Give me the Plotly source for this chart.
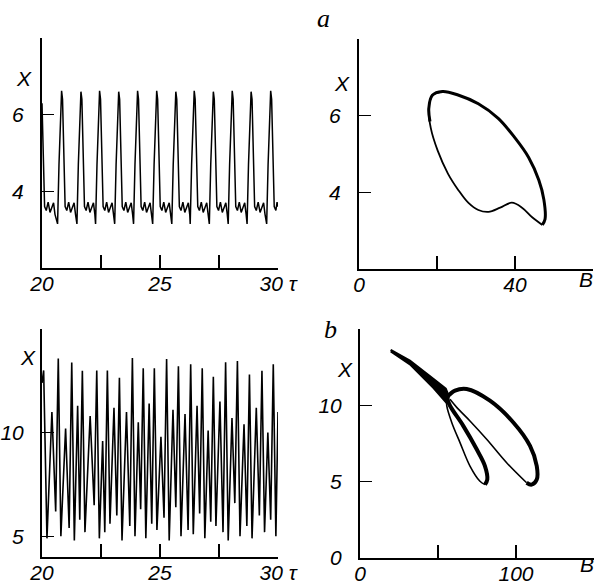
import plotly.graph_objects as go

# ---------------- panel a, time series X(tau) ----------------
a_tau = [20.00, 20.05, 20.11, 20.18, 20.26, 20.34, 20.42, 20.49, 20.55,
         20.66, 20.72, 20.78, 20.83, 20.87, 20.92, 20.98, 21.05, 21.13, 21.21, 21.29, 21.36, 21.42,
         21.48, 21.54, 21.60, 21.65, 21.69, 21.74, 21.80, 21.87, 21.95, 22.03, 22.11, 22.18, 22.24,
         22.27, 22.33, 22.39, 22.44, 22.48, 22.53, 22.59, 22.66, 22.74, 22.82, 22.90, 22.97, 23.03,
         23.08, 23.14, 23.20, 23.25, 23.29, 23.34, 23.40, 23.47, 23.55, 23.63, 23.71, 23.78, 23.84,
         23.88, 23.94, 24.00, 24.05, 24.09, 24.14, 24.20, 24.27, 24.35, 24.43, 24.51, 24.58, 24.64,
         24.69, 24.75, 24.81, 24.86, 24.90, 24.95, 25.01, 25.08, 25.16, 25.24, 25.32, 25.39, 25.45,
         25.50, 25.56, 25.62, 25.67, 25.71, 25.76, 25.82, 25.89, 25.97, 26.05, 26.13, 26.20, 26.26,
         26.28, 26.34, 26.40, 26.45, 26.49, 26.54, 26.60, 26.67, 26.75, 26.83, 26.91, 26.98, 27.04,
         27.09, 27.15, 27.21, 27.26, 27.30, 27.35, 27.41, 27.48, 27.56, 27.64, 27.72, 27.79, 27.85,
         27.89, 27.95, 28.01, 28.06, 28.10, 28.15, 28.21, 28.28, 28.36, 28.44, 28.52, 28.59, 28.65,
         28.69, 28.75, 28.81, 28.86, 28.90, 28.95, 29.01, 29.08, 29.16, 29.24, 29.32, 29.39, 29.45,
         29.52, 29.58, 29.64, 29.69, 29.73, 29.78, 29.84, 29.91, 29.96, 30.00]
a_X = [6.30, 5.20, 3.60, 3.50, 3.72, 3.45, 3.62, 3.70, 3.40,
       3.15, 4.70, 6.00, 6.62, 6.40, 5.10, 3.60, 3.50, 3.72, 3.45, 3.62, 3.70, 3.40,
       3.15, 4.70, 6.00, 6.60, 6.40, 5.10, 3.60, 3.50, 3.72, 3.45, 3.62, 3.70, 3.40,
       3.15, 4.70, 6.00, 6.62, 6.40, 5.10, 3.60, 3.50, 3.72, 3.45, 3.62, 3.70, 3.40,
       3.15, 4.70, 6.00, 6.60, 6.40, 5.10, 3.60, 3.50, 3.72, 3.45, 3.62, 3.70, 3.40,
       3.15, 4.70, 6.00, 6.62, 6.40, 5.10, 3.60, 3.50, 3.72, 3.45, 3.62, 3.70, 3.40,
       3.15, 4.70, 6.00, 6.62, 6.40, 5.10, 3.60, 3.50, 3.72, 3.45, 3.62, 3.70, 3.40,
       3.15, 4.70, 6.00, 6.60, 6.40, 5.10, 3.60, 3.50, 3.72, 3.45, 3.62, 3.70, 3.40,
       3.15, 4.70, 6.00, 6.62, 6.40, 5.10, 3.60, 3.50, 3.72, 3.45, 3.62, 3.70, 3.40,
       3.15, 4.70, 6.00, 6.60, 6.40, 5.10, 3.60, 3.50, 3.72, 3.45, 3.62, 3.70, 3.40,
       3.15, 4.70, 6.00, 6.62, 6.40, 5.10, 3.60, 3.50, 3.72, 3.45, 3.62, 3.70, 3.40,
       3.15, 4.70, 6.00, 6.60, 6.40, 5.10, 3.60, 3.50, 3.72, 3.45, 3.62, 3.70, 3.40,
       3.15, 4.70, 6.00, 6.62, 6.40, 5.10, 3.60, 3.50, 3.72, 3.60]

# ---------------- panel a, phase portrait X(B) ----------------
a_loop_thin_B = [21.4, 18.8, 17.9, 18.4, 20.2, 22.8, 25.4, 28.0, 30.6, 33.2, 36.2, 39.2, 41.8, 44.4, 47.0]
a_loop_thin_X = [6.63, 6.53, 6.19, 5.68, 5.08, 4.49, 4.07, 3.73, 3.54, 3.49, 3.60, 3.73, 3.60, 3.35, 3.15]
a_loop_thick_B = [47.0, 47.7, 47.4, 46.1, 43.5, 40.0, 35.7, 30.6, 25.4, 21.4, 18.8, 17.9, 18.2]
a_loop_thick_X = [3.15, 3.30, 3.81, 4.32, 4.91, 5.42, 5.93, 6.31, 6.54, 6.63, 6.53, 6.19, 5.85]

# ---------------- panel b, time series X(tau) ----------------
b_tau = [20.00, 20.07, 20.21, 20.42, 20.58, 20.69, 20.80, 21.00, 21.15, 21.26,
         21.37, 21.51, 21.60, 21.71, 21.82, 22.04, 22.21, 22.32, 22.43, 22.57,
         22.66, 22.77, 22.88, 23.05, 23.17, 23.28, 23.39, 23.58, 23.72, 23.83,
         23.94, 24.08, 24.18, 24.29, 24.40, 24.54, 24.65, 24.76, 24.87, 25.04,
         25.17, 25.28, 25.39, 25.55, 25.67, 25.78, 25.89, 26.06, 26.19, 26.30,
         26.41, 26.57, 26.68, 26.79, 26.90, 27.04, 27.15, 27.26, 27.37, 27.54,
         27.67, 27.78, 27.89, 28.05, 28.17, 28.28, 28.39, 28.56, 28.68, 28.79,
         28.90, 29.08, 29.21, 29.32, 29.43, 29.57, 29.69, 29.80, 29.91, 30.00]
b_X = [12.4, 13.0, 4.9, 11.0, 6.2, 13.58, 5.0, 10.2, 5.4, 13.38,
       4.8, 11.3, 5.8, 12.98, 5.2, 10.8, 6.5, 13.0, 4.9, 9.6,
       5.2, 13.0, 5.6, 11.2, 6.0, 12.65, 4.8, 11.0, 5.5, 13.6,
       5.0, 10.5, 6.3, 13.1, 4.9, 11.4, 5.6, 13.1, 5.3, 9.8,
       5.9, 13.55, 4.8, 11.1, 6.4, 13.2, 5.0, 10.9, 5.3, 13.3,
       5.1, 11.3, 6.1, 13.1, 4.9, 10.1, 5.7, 12.7, 5.5, 11.5,
       5.2, 13.4, 4.8, 10.7, 6.6, 13.45, 5.0, 10.4, 5.5, 12.8,
       4.9, 11.2, 6.0, 12.98, 5.2, 10.0, 5.8, 13.3, 5.0, 11.0]

# ---------------- panel b, phase portrait X(B) ----------------
b_tail_B = [19.7, 32.0, 47.0, 55.0, 57.0, 56.0, 47.0, 32.0, 19.7]
b_tail_X = [13.65, 12.95, 11.75, 11.1, 10.6, 10.1, 11.15, 12.7, 13.55]
b_loop1_thick_B = [55.6, 57.7, 66.2, 74.8, 80.1, 81.6, 80.1]
b_loop1_thick_X = [10.53, 9.98, 8.66, 7.12, 6.02, 5.13, 4.80]
b_loop1_thin_B = [80.1, 76.9, 70.5, 64.1, 58.8, 55.6, 55.6]
b_loop1_thin_X = [4.80, 5.02, 6.02, 7.56, 8.88, 9.98, 10.53]
b_loop2_thick_B = [55.6, 60.9, 68.4, 83.3, 98.3, 109.0, 113.3, 113.3, 110.0, 106.8]
b_loop2_thick_X = [10.53, 10.97, 11.08, 10.31, 8.88, 7.34, 6.02, 5.13, 4.80, 4.92]
b_loop2_thin_B = [106.8, 94.0, 81.2, 70.5, 62.0, 57.7]
b_loop2_thin_X = [4.92, 6.24, 7.78, 8.98, 9.87, 10.40]

# ---------------- ticks ----------------
ts_tickvals = [20, 22.5, 25, 27.5, 30]
ts_ticktext = ["20", "", "25", "", "30 τ"]
a_ts_yvals, a_ts_ytext = [4, 6, 8], ["4", "6", ""]
a_ph_xvals, a_ph_xtext = [0, 20, 40, 60], ["0", "", "40", ""]
a_ph_yvals, a_ph_ytext = [4, 6, 8], ["4", "6", ""]
b_ts_yvals, b_ts_ytext = [5, 10, 15], ["5", "10", ""]
b_ph_xvals, b_ph_xtext = [0, 50, 100, 150], ["0", "", "100", ""]
b_ph_yvals, b_ph_ytext = [0, 5, 10, 15], ["0", "5", "10", ""]

W, H = 596, 588
def px(x): return x / W
def py(y): return 1 - y / H

K = "black"
fig = go.Figure()
fig.add_trace(go.Scatter(x=a_tau, y=a_X, mode="lines", line=dict(color=K, width=1.5),
                         xaxis="x", yaxis="y", showlegend=False, hoverinfo="skip"))
fig.add_trace(go.Scatter(x=a_loop_thin_B, y=a_loop_thin_X, mode="lines",
                         line=dict(color=K, width=1.8, shape="spline"),
                         xaxis="x2", yaxis="y2", showlegend=False, hoverinfo="skip"))
fig.add_trace(go.Scatter(x=a_loop_thick_B, y=a_loop_thick_X, mode="lines",
                         line=dict(color=K, width=3.0, shape="spline"),
                         xaxis="x2", yaxis="y2", showlegend=False, hoverinfo="skip"))
fig.add_trace(go.Scatter(x=b_tau, y=b_X, mode="lines", line=dict(color=K, width=1.6),
                         xaxis="x3", yaxis="y3", showlegend=False, hoverinfo="skip"))
fig.add_trace(go.Scatter(x=b_tail_B, y=b_tail_X, mode="lines", fill="toself", fillcolor=K,
                         line=dict(color=K, width=2),
                         xaxis="x4", yaxis="y4", showlegend=False, hoverinfo="skip"))
for bx, by, w in [(b_loop1_thick_B, b_loop1_thick_X, 4.0),
                  (b_loop1_thin_B, b_loop1_thin_X, 1.6),
                  (b_loop2_thick_B, b_loop2_thick_X, 4.0),
                  (b_loop2_thin_B, b_loop2_thin_X, 1.6)]:
    fig.add_trace(go.Scatter(x=bx, y=by, mode="lines",
                             line=dict(color=K, width=w, shape="spline"),
                             xaxis="x4", yaxis="y4", showlegend=False, hoverinfo="skip"))

tf = dict(family="Liberation Sans", size=21, color=K, style="italic")
def xax(dom, anchor, rng, vals, text):
    return dict(domain=dom, anchor=anchor, range=rng, tickmode="array", tickvals=vals,
                ticktext=text, ticks="inside", ticklen=13, tickwidth=1.5, tickcolor=K,
                showline=True, linewidth=2, linecolor=K, showgrid=False, zeroline=False,
                tickfont=tf, ticklabelstandoff=-4, fixedrange=True, automargin=False)
def yax(dom, anchor, rng, vals, text, so):
    return dict(domain=dom, anchor=anchor, range=rng, tickmode="array", tickvals=vals,
                ticktext=text, ticks="inside", ticklen=12, tickwidth=1.5, tickcolor=K,
                showline=True, linewidth=2, linecolor=K, showgrid=False, zeroline=False,
                tickfont=tf, ticklabelstandoff=so, fixedrange=True, automargin=False)

fig.update_layout(
    width=W, height=H, margin=dict(l=0, r=0, t=0, b=0, autoexpand=False),
    paper_bgcolor="white", plot_bgcolor="white", hovermode=False, showlegend=False,
    xaxis=xax([px(42), px(278)], "y", [20, 30], ts_tickvals, ts_ticktext),
    yaxis=yax([py(268), py(38)], "x", [2, 8], a_ts_yvals, a_ts_ytext, 12),
    xaxis2=xax([px(359), px(593)], "y2", [0, 60], a_ph_xvals, a_ph_xtext),
    yaxis2=yax([py(269), py(39)], "x2", [2, 8], a_ph_yvals, a_ph_ytext, 12),
    xaxis3=xax([px(42), px(278)], "y3", [20, 30], ts_tickvals, ts_ticktext),
    yaxis3=yax([py(557), py(329)], "x3", [4, 15], b_ts_yvals, b_ts_ytext, 12),
    xaxis4=xax([px(360), px(594)], "y4", [0, 150], b_ph_xvals, b_ph_xtext),
    yaxis4=yax([py(557.7), py(329.3)], "x4", [0, 15], b_ph_yvals, b_ph_ytext, 12),
)

lab = dict(family="Liberation Sans", size=21, color=K, style="italic")
plab = dict(family="Liberation Serif", size=26, color=K, style="italic")
ann = [
    (24, 78, "X", lab), (342, 83, "X", lab), (28, 357, "X", lab), (345, 369, "X", lab),
    (586, 279, "B", lab), (587, 564, "B", lab),
    (323, 18, "a", plab), (330, 329, "b", plab),
]
for x, y, t, f in ann:
    fig.add_annotation(x=px(x), y=py(y), xref="paper", yref="paper", text=t,
                       showarrow=False, font=f, xanchor="center", yanchor="middle")

fig.write_html("out.html", config={"displayModeBar": False, "staticPlot": True},
               post_script="document.body.style.margin='0';document.body.style.overflow='hidden';")
